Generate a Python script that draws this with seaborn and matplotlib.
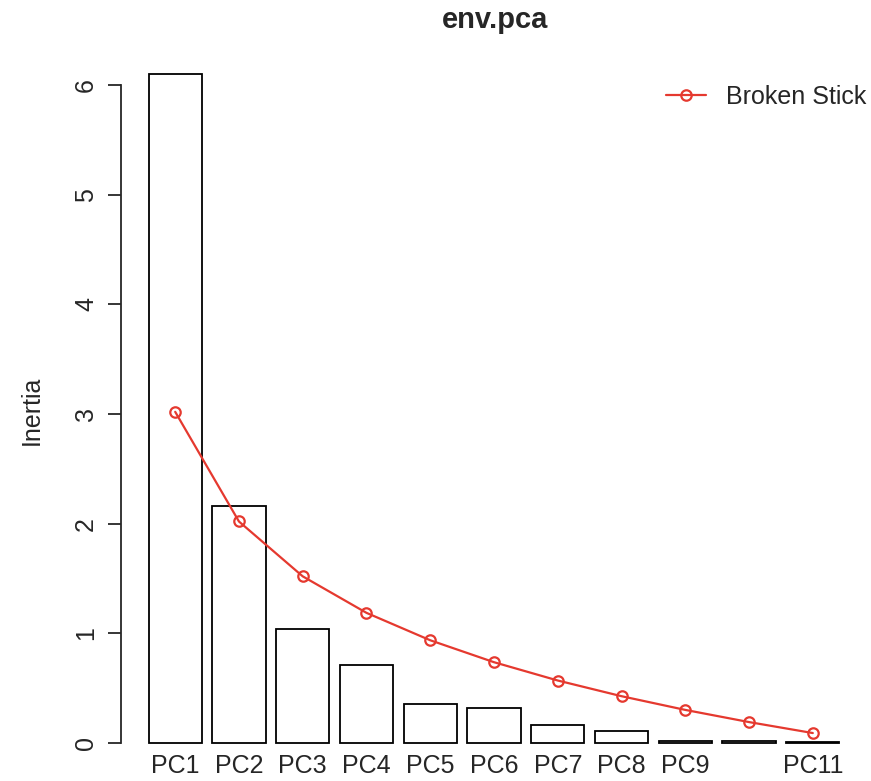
import matplotlib
matplotlib.use("Agg")
import matplotlib.pyplot as plt
import seaborn as sns
import pandas as pd

components = ["PC1", "PC2", "PC3", "PC4", "PC5", "PC6", "PC7", "PC8", "PC9", "PC10", "PC11"]
tick_labels = ["PC1", "PC2", "PC3", "PC4", "PC5", "PC6", "PC7", "PC8", "PC9", "", "PC11"]
eigenvalues = [6.10, 2.165, 1.04, 0.71, 0.355, 0.32, 0.165, 0.11, 0.022, 0.018, 0.008]
broken_stick = [3.020, 2.020, 1.520, 1.187, 0.937, 0.737, 0.570, 0.427, 0.302, 0.191, 0.091]

sns.set_style("white")
plt.rcParams['font.family'] = ['Liberation Sans', 'DejaVu Sans']

df = pd.DataFrame({"comp": components, "inertia": eigenvalues, "bs": broken_stick})

W, H = 871, 781
fig = plt.figure(figsize=(W / 100, H / 100), dpi=100)
top_px, bot_px = 47.3, 751.8
ax = fig.add_axes([121 / W, 1 - bot_px / H, (867 - 121) / W, (bot_px - top_px) / H])

sns.barplot(data=df, x="comp", y="inertia", ax=ax, color="white",
            edgecolor="black", linewidth=1.3, width=0.833, saturation=1)
red = "#E5392F"
ax.plot(range(len(components)), df["bs"], color=red, lw=1.6, marker="o",
        markersize=7.5, markerfacecolor="none", markeredgewidth=1.6,
        label="Broken Stick")

ax.set_xlim(-0.85, 10.85)
ax.set_ylim(-0.08, 6.344)
for s in ["top", "right", "bottom"]:
    ax.spines[s].set_visible(False)
ax.spines["left"].set_bounds(0, 6)
ax.spines["left"].set_linewidth(1.3)
ax.set_yticks([0, 1, 2, 3, 4, 5, 6])
ax.set_yticklabels(["0", "1", "2", "3", "4", "5", "6"], rotation=90, va="center")
ax.tick_params(axis="y", direction="out", length=9.5, width=1.3, labelsize=18, pad=7, left=True)
ax.set_xticks(range(len(components)))
ax.set_xticklabels(tick_labels)
ax.tick_params(axis="x", length=0, labelsize=18, pad=1.5)
ax.set_xlabel("")
ax.set_ylabel("")
fig.text(32 / W, 1 - 410 / H, "Inertia", rotation=90, fontsize=18,
         ha="center", va="center")
fig.text(495 / W, 1 - 20 / H, "env.pca", fontsize=21, fontweight="bold",
         ha="center", va="center")

leg = ax.legend(loc="upper right", frameon=False, fontsize=18,
                bbox_to_anchor=(866 / W, 1 - 85 / H), bbox_transform=fig.transFigure,
                borderaxespad=0, borderpad=0, handlelength=1.6, handletextpad=0.8)

fig.savefig("out.png", dpi=100)
